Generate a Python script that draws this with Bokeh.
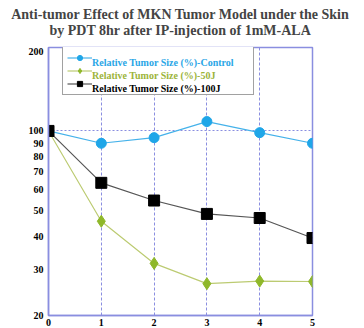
from bokeh.plotting import figure
from bokeh.models import (Range1d, FixedTicker, PrintfTickFormatter, Legend, LegendItem, Title)
from bokeh.embed import file_html
from bokeh.resources import INLINE

days = [0, 1, 2, 3, 4, 5]
control = [100, 89.8, 94.3, 108.5, 98.5, 89.8]
j50 = [100, 45.5, 31.5, 26.4, 27.0, 26.9]
j100 = [100, 63.6, 54.5, 48.5, 46.8, 39.3]
labels = ["Relative Tumor Size (%)-Control", "Relative Tumor Size (%)-50J", "Relative Tumor Size (%)-100J"]
title_lines = ["Anti-tumor Effect of MKN Tumor Model under the Skin",
               "by PDT 8hr after IP-injection of 1mM-ALA"]
y_ticks = [20, 30, 40, 50, 60, 70, 80, 90, 100, 200]
x_ticks = [0, 1, 2, 3, 4, 5]

FONT = "Liberation Serif"
FRAME = "#8a8ee0"

p = figure(width=356, height=328,
           output_backend="svg", toolbar_location=None,
           y_axis_type="log", x_range=Range1d(0, 5), y_range=Range1d(20, 207),
           min_border_left=48, min_border_right=44, min_border_top=47, min_border_bottom=0)
p.background_fill_color = "white"
p.border_fill_color = "white"
p.outline_line_color = FRAME
p.outline_line_width = 1.5

t2 = Title(text=title_lines[1], align="center", text_font=FONT, text_font_size="14px",
           text_font_style="bold", standoff=19)
t1 = Title(text=title_lines[0], align="center", text_font=FONT, text_font_size="14px",
           text_font_style="bold", standoff=-20)
p.add_layout(t2, "above")
p.add_layout(t1, "above")

# axes
for ax in (p.xaxis[0], p.yaxis[0]):
    ax.axis_line_color = FRAME
    ax.axis_line_width = 1.5
    ax.major_tick_line_color = None
    ax.minor_tick_line_color = None
    ax.major_label_text_font = FONT
    ax.major_label_text_font_style = "bold"
    ax.major_label_text_font_size = "10px"
    ax.major_label_text_color = "black"
    ax.major_tick_out = 0
    ax.major_tick_in = 0
p.xaxis.ticker = FixedTicker(ticks=x_ticks)
p.yaxis.ticker = FixedTicker(ticks=y_ticks)
p.yaxis.formatter = PrintfTickFormatter(format="%d")
p.xaxis.major_label_standoff = 3
p.yaxis.major_label_standoff = 5

p.xgrid.ticker = FixedTicker(ticks=[1, 2, 3, 4])
p.xgrid.grid_line_color = FRAME
p.xgrid.grid_line_dash = "3 2"
p.xgrid.grid_line_width = 1
p.ygrid.ticker = FixedTicker(ticks=[100])
p.ygrid.grid_line_color = FRAME
p.ygrid.grid_line_dash = "2 2"
p.ygrid.grid_line_width = 1

# series
c_line = p.line(days, control, line_color="#45b2ea", line_width=1.2)
c_pts = p.scatter(days, control, marker="circle", size=10, fill_color="#1fa6e8", line_color="#1fa6e8")
g_line = p.line(days, j50, line_color="#bccb72", line_width=1.2)
g_pts = p.scatter(days, j50, marker="diamond", size=12, fill_color="#8fb82a", line_color="#8fb82a")
k_line = p.line(days, j100, line_color="#555555", line_width=1.2)
k_pts = p.scatter(days, j100, marker="square", size=11, fill_color="black", line_color="black")

# invisible renderers used only for the coloured legend labels
d1 = p.scatter(days, control, size=1, alpha=0)
d2 = p.scatter(days, j50, size=1, alpha=0)
d3 = p.scatter(days, j100, size=1, alpha=0)

common = dict(padding=4, spacing=0, margin=0, glyph_width=25, glyph_height=13,
              label_height=13, label_standoff=5,
              label_text_font=FONT, label_text_font_style="bold", label_text_font_size="10px")

LEG_X, LEG_Y = 14, 220
leg = Legend(items=[LegendItem(label="", renderers=[c_line, c_pts]),
                    LegendItem(label="", renderers=[g_line, g_pts]),
                    LegendItem(label="", renderers=[k_line, k_pts])],
             location=(LEG_X, LEG_Y), border_line_color="#444444", border_line_width=1,
             background_fill_color="white", background_fill_alpha=1,
             label_width=152, **common)
p.add_layout(leg)

colors = ["#2aa6e6", "#9cb43a", "black"]
for i, (r, lab, col) in enumerate(zip([d1, d2, d3], labels, colors)):
    lg = Legend(items=[LegendItem(label=lab, renderers=[r])],
                location=(LEG_X, LEG_Y + (2 - i) * 13), border_line_color=None,
                background_fill_alpha=0, label_text_color=col, **common)
    p.add_layout(lg)

open("out.html", "w").write(file_html(p, INLINE))
